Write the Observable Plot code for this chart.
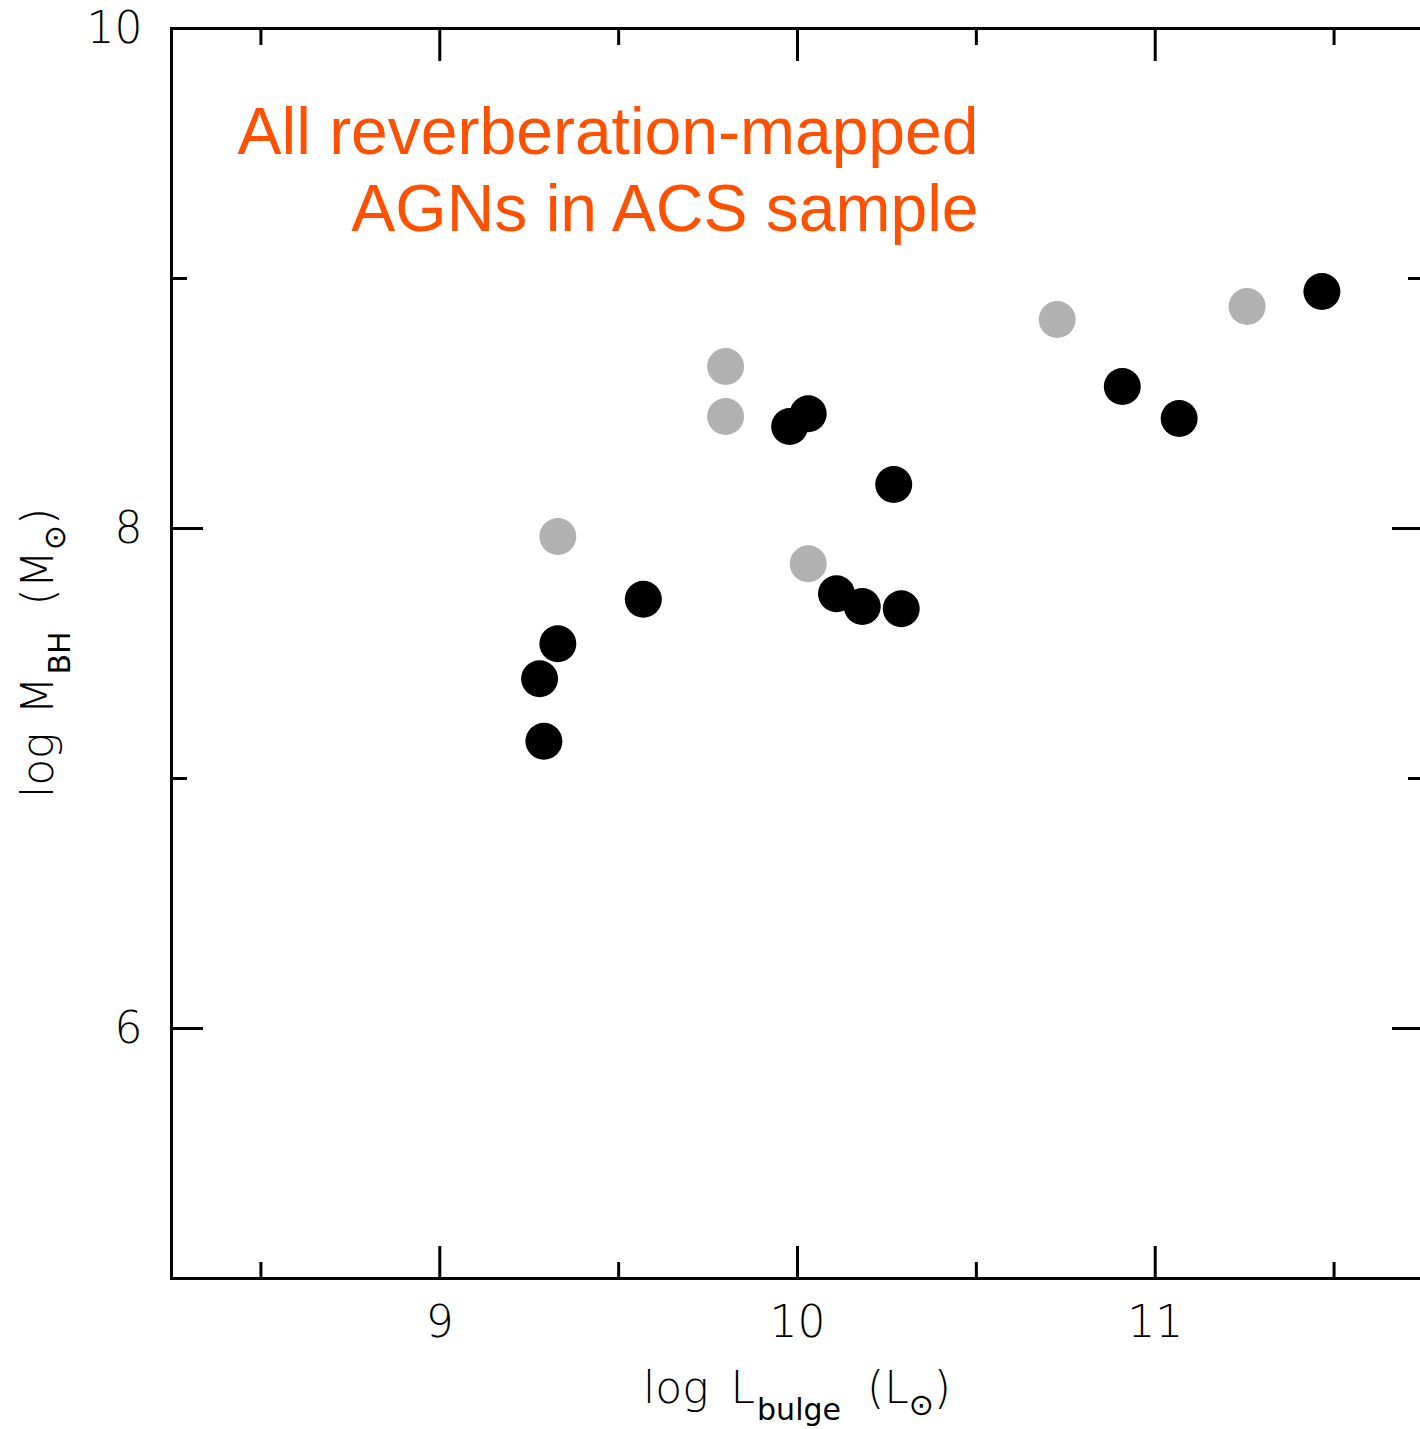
<!DOCTYPE html>
<html>
<head>
<meta charset="utf-8">
<script src="https://cdn.jsdelivr.net/npm/d3@7"></script>
<script src="https://cdn.jsdelivr.net/npm/@observablehq/plot@0.6"></script>
<style>
html, body { margin: 0; padding: 0; background: #fff; overflow: hidden; }
#chart svg { display: block; }
</style>
</head>
<body>
<div id="chart"></div>
<script>
// ---- data ----
const blackX = [9.291, 9.279, 9.330, 9.569, 9.978, 10.030, 10.269, 10.109, 10.181, 10.290, 10.908, 11.067, 11.466];
const blackY = [7.149, 7.399, 7.539, 7.717, 8.408, 8.459, 8.176, 7.739, 7.688, 7.679, 8.568, 8.440, 8.948];
const grayX = [9.330, 9.799, 9.799, 10.030, 10.726, 11.257];
const grayY = [7.968, 8.648, 8.448, 7.859, 8.836, 8.888];

const xMajorTicks = [9, 10, 11];
const xMinorTicks = [8.5, 9.5, 10.5, 11.5];
const yMajorTicks = [6, 8, 10];
const yMinorTicks = [7, 9];
const xDomain = [8.25, 11.75];
const yDomain = [5, 10];

const annotationLines = ["All reverberation-mapped", "AGNs in ACS sample"];
const annotationX = 10.506;
const annotationY = 9.192;

// ---- build table ----
const grayPts = grayX.map((x, i) => ({x, y: grayY[i]}));
const blackPts = blackX.map((x, i) => ({x, y: blackY[i]}));

const FONT = "'DejaVu Sans', sans-serif";
const TICK_FS = 44;

const tickStyle = {stroke: "black", strokeWidth: 3, fill: "none", label: null};
const textStyle = {tickSize: 0, fontSize: TICK_FS, fontWeight: 200, fill: "black", label: null, tickFormat: d => String(d)};

const plot = Plot.plot({
  width: 1420,
  height: 1429,
  marginLeft: 171,
  marginRight: -3,
  marginTop: 28,
  marginBottom: 151,
  style: {fontFamily: FONT, background: "white", overflow: "visible"},
  x: {domain: xDomain, axis: null},
  y: {domain: yDomain, axis: null},
  marks: [
    // inward ticks: bottom / top / left / right
    Plot.axisX(xMajorTicks, {anchor: "bottom", tickSize: -32, ...tickStyle}),
    Plot.axisX(xMinorTicks, {anchor: "bottom", tickSize: -16, ...tickStyle}),
    Plot.axisX(xMajorTicks, {anchor: "top", tickSize: -32, ...tickStyle}),
    Plot.axisX(xMinorTicks, {anchor: "top", tickSize: -16, ...tickStyle}),
    Plot.axisY(yMajorTicks, {anchor: "left", tickSize: -32, ...tickStyle}),
    Plot.axisY(yMinorTicks, {anchor: "left", tickSize: -16, ...tickStyle}),
    Plot.axisY(yMajorTicks, {anchor: "right", tickSize: -32, ...tickStyle}),
    Plot.axisY(yMinorTicks, {anchor: "right", tickSize: -16, ...tickStyle}),
    // tick labels
    Plot.axisX(xMajorTicks, {anchor: "bottom", tickPadding: 27, ...textStyle}),
    Plot.axisY(yMajorTicks, {anchor: "left", tickPadding: 29, ...textStyle}),
    Plot.frame({stroke: "black", strokeWidth: 3}),
    Plot.dot(grayPts, {x: "x", y: "y", r: 18.5, fill: "#b1b1b1", stroke: null}),
    Plot.dot(blackPts, {x: "x", y: "y", r: 18.5, fill: "black", stroke: null}),
    Plot.text([annotationLines.join("\n")], {
      x: () => annotationX, y: () => annotationY,
      text: d => d,
      textAnchor: "end", lineAnchor: "bottom", lineHeight: 77 / 66,
      fontSize: 66, fontFamily: "'Liberation Sans', Arial, sans-serif",
      fill: "#ff5000"
    })
  ]
});

document.getElementById("chart").appendChild(plot);

// ---- axis titles with sub-scripts ----
const xs = plot.scale("x"), ys = plot.scale("y");
const svg = d3.select(plot);

const xl = svg.append("text")
  .attr("x", xs.apply(10))
  .attr("y", ys.apply(5) + 125)
  .attr("text-anchor", "middle")
  .attr("font-family", FONT)
  .attr("font-weight", 200)
  .attr("font-size", TICK_FS)
  .attr("fill", "black");
xl.append("tspan").text("log");
xl.append("tspan").attr("dx", 22).text("L");
xl.append("tspan").attr("dx", 2).attr("dy", 17).attr("font-size", 30).attr("font-weight", 400).text("bulge");
xl.append("tspan").attr("dx", 26).attr("dy", -17).text("(L");
xl.append("tspan").attr("dy", 12).attr("font-size", 30).attr("font-weight", 400).text("⊙");
xl.append("tspan").attr("dy", -12).text(")");

const yl = svg.append("text")
  .attr("transform", `translate(${xs.apply(xDomain[0]) - 118},${ys.apply(7.5)}) rotate(-90)`)
  .attr("text-anchor", "middle")
  .attr("font-family", FONT)
  .attr("font-weight", 200)
  .attr("font-size", TICK_FS)
  .attr("fill", "black");
yl.append("tspan").text("log");
yl.append("tspan").attr("dx", 18).text("M");
yl.append("tspan").attr("dx", 2).attr("dy", 17).attr("font-size", 30).attr("font-weight", 400).text("BH");
yl.append("tspan").attr("dx", 26).attr("dy", -17).text("(M");
yl.append("tspan").attr("dy", 12).attr("font-size", 30).attr("font-weight", 400).text("⊙");
yl.append("tspan").attr("dy", -12).text(")");
</script>
</body>
</html>
